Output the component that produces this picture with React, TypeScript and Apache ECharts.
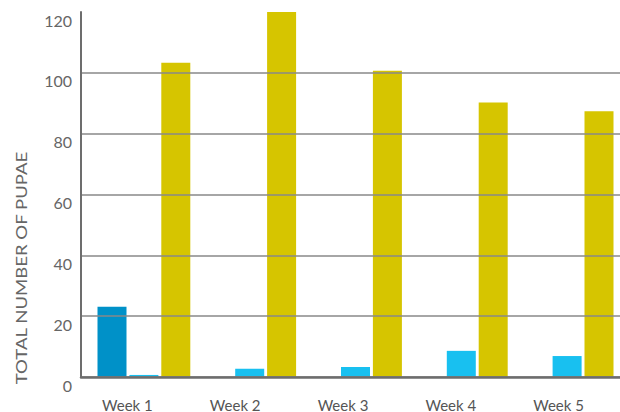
import React, { useEffect, useRef } from "react";
import * as echarts from "echarts";

const categories = ["Week 1", "Week 2", "Week 3", "Week 4", "Week 5"];
const seriesDark = [23.4, 0, 0, 0, 0];
const seriesLight = [1, 3, 3.6, 8.9, 7.2];
const seriesYellow = [103.4, 120, 100.7, 90.3, 87.5];
const yTitle = "TOTAL NUMBER OF PUPAE";

const FONT = "Lato, 'Noto Sans', sans-serif";

export default function App() {
  const ref = useRef<HTMLDivElement>(null);
  useEffect(() => {
    if (!ref.current) return;
    const chart = echarts.init(ref.current, undefined, { renderer: "svg" });
    const gridTop = 12;
    const gridBottom = 34;
    chart.setOption({
      animation: false,
      backgroundColor: "#ffffff",
      grid: [
        { left: 81, right: 0, top: gridTop, bottom: gridBottom, containLabel: false },
        { left: 91, right: -5, top: gridTop, bottom: gridBottom, containLabel: false },
      ],
      xAxis: [
        {
          type: "category",
          gridIndex: 0,
          data: categories,
          axisLine: { show: true, lineStyle: { color: "#6d6d6d", width: 2.5 } },
          axisTick: { show: false },
          axisLabel: {
            color: "#555",
            fontFamily: FONT,
            fontSize: 15,
            margin: 20,
            padding: [0, 15, 0, 0],
          },
          z: 5,
        },
        {
          type: "category",
          gridIndex: 1,
          data: categories,
          show: false,
        },
      ],
      yAxis: [
        {
          type: "value",
          gridIndex: 0,
          min: 0,
          max: 120,
          interval: 20,
          axisLine: { show: true, lineStyle: { color: "#6d6d6d", width: 2 } },
          axisTick: { show: false },
          axisLabel: {
            color: "#666",
            fontFamily: FONT,
            fontSize: 16,
            margin: 9,
            verticalAlign: "top",
            padding: [0, 0, 0, 0],
          },
          splitLine: {
            show: true,
            lineStyle: {
              color: ["#888", "#888", "#888", "#888", "#888", "#888", "rgba(0,0,0,0)"],
              width: 1.5,
            },
          },
          z: 5,
        },
        {
          type: "value",
          gridIndex: 1,
          min: 0,
          max: 120,
          interval: 20,
          show: false,
          splitLine: { show: false },
        },
      ],
      series: [
        {
          type: "bar",
          xAxisIndex: 1,
          yAxisIndex: 1,
          data: seriesDark,
          barWidth: 29,
          barGap: "10%",
          itemStyle: { color: "#0091c8" },
        },
        {
          type: "bar",
          xAxisIndex: 1,
          yAxisIndex: 1,
          data: seriesLight,
          barWidth: 29,
          barGap: "10%",
          itemStyle: { color: "#18c0f0" },
        },
        {
          type: "bar",
          xAxisIndex: 1,
          yAxisIndex: 1,
          data: seriesYellow,
          barWidth: 29,
          barGap: "10%",
          itemStyle: { color: "#d6c500" },
        },
      ],
      graphic: [
        {
          type: "text",
          x: 21,
          y: 268,
          rotation: Math.PI / 2,
          scaleX: 1.16,
          style: {
            text: yTitle,
            fill: "#666",
            font: `16px ${FONT}`,
            align: "center",
            verticalAlign: "middle",
          },
        },
      ],
    });
    return () => chart.dispose();
  }, []);
  return (
    <div
      ref={ref}
      style={{ position: "absolute", left: 0, top: 0, width: 620, height: 412 }}
    />
  );
}
